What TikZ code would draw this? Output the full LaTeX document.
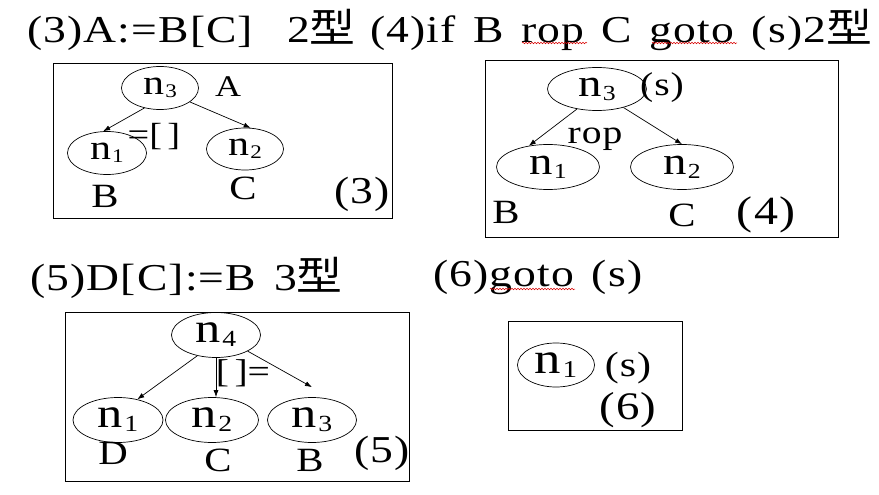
\documentclass[tikz,border=0pt]{standalone}
\usepackage{graphicx}
\usepackage{fontspec}
\setmainfont{Liberation Serif}[FakeStretch=1.2]
\newfontfamily\cjk{Noto Sans CJK SC}[FakeStretch=1.15, Scale=1.05]
\newfontfamily\spaced{Liberation Serif}[FakeStretch=1.2, LetterSpace=3, WordSpace=1.4]
\usetikzlibrary{arrows.meta, positioning, shapes.geometric, decorations.pathmorphing}
% node text n with a small lowered index
\newcommand{\nsub}[1]{n\kern0.03em\raisebox{-0.1em}{\scalebox{0.55}{#1}}}

\begin{document}
\begin{tikzpicture}[x=1pt, y=-1pt,
    >={Latex[length=7pt,width=5pt]},
    box/.style={draw, line width=1pt},
    tnode/.style={draw, ellipse, line width=0.7pt, inner sep=0pt},
    edge/.style={->, line width=0.7pt},
    title/.style={anchor=west, inner sep=0pt, font=\spaced\fontsize{38}{38}\selectfont},
    lbl/.style={inner sep=0pt, font=\spaced\fontsize{34}{34}\selectfont},
    tag/.style={inner sep=0pt, font=\spaced\fontsize{38}{38}\selectfont},
    squiggle/.style={red!85!black, line width=0.5pt, decorate,
        decoration={snake, amplitude=0.8pt, segment length=3pt}}]
    \useasboundingbox (0,0) rectangle (879,495);

    % (3) A:=B[C]
    \node[title] (h3) at (27,30) {(3)A:=B[C]\hspace{34pt}2{\cjk 型}};
    \draw[box] (53,64) rectangle (392,218);
    \node[tnode, minimum width=77pt, minimum height=43pt, font=\fontsize{35}{35}\selectfont] (t3) at (160,88) {\nsub{3}};
    \node[tnode, minimum width=79pt, minimum height=43pt, font=\fontsize{35}{35}\selectfont] (l3) at (107,153) {\nsub{1}};
    \node[tnode, minimum width=77pt, minimum height=42pt, font=\fontsize{35}{35}\selectfont] (r3) at (245,149) {\nsub{2}};
    \draw[edge] (t3.232) -- (l3.100);
    \draw[edge] (t3.-25) -- (r3.75);
    \node[lbl, font=\spaced\fontsize{30}{30}\selectfont] (a3) at (228,87) {A};
    \node[lbl, font=\fontsize{32}{32}\selectfont] (o3) at (154,137) {=[\,]};
    \node[lbl] (b3) at (105,196) {B};
    \node[lbl] (c3) at (243,188) {C};
    \node[tag] (k3) at (362,194) {(3)};

    % (4) if B rop C goto (s)
    \node[title] (h4) at (370,30) {(4)if B rop C goto (s)2{\cjk 型}};
    \draw[squiggle] (522,43) -- (587,43);
    \draw[squiggle] (652,43) -- (737,43);
    \draw[box] (485,61) rectangle (838,237);
    \node[tnode, minimum width=99pt, minimum height=43pt, font=\fontsize{39}{39}\selectfont] (t4) at (597,89) {\nsub{3}};
    \node[tnode, minimum width=103pt, minimum height=45pt, font=\fontsize{39}{39}\selectfont] (l4) at (548,167) {\nsub{1}};
    \node[tnode, minimum width=103pt, minimum height=45pt, font=\fontsize{39}{39}\selectfont] (r4) at (682,167) {\nsub{2}};
    \draw[edge] (t4.225) -- (l4.132);
    \draw[edge] (t4.-35) -- (r4.north);
    \node[lbl, font=\spaced\fontsize{33}{33}\selectfont] (s4) at (662,88) {(s)};
    \node[lbl, font=\spaced\fontsize{33}{33}\selectfont] (o4) at (595,139) {rop};
    \node[lbl] (b4) at (506,212) {B};
    \node[lbl] (c4) at (682,215) {C};
    \node[tag, font=\spaced\fontsize{40}{40}\selectfont] (k4) at (766,215) {(4)};

    % (5) D[C]:=B
    \node[title] (h5) at (30,278) {(5)D[C]:=B\hspace{18pt}3{\cjk 型}};
    \draw[box] (65,312) rectangle (409,481);
    \node[tnode, minimum width=89pt, minimum height=45pt, font=\fontsize{42}{42}\selectfont] (t5) at (216,335) {\nsub{4}};
    \node[tnode, minimum width=90pt, minimum height=45pt, font=\fontsize{42}{42}\selectfont] (l5) at (118,420) {\nsub{1}};
    \node[tnode, minimum width=93pt, minimum height=45pt, font=\fontsize{42}{42}\selectfont] (m5) at (212,420) {\nsub{2}};
    \node[tnode, minimum width=89pt, minimum height=45pt, font=\fontsize{42}{42}\selectfont] (r5) at (312,420) {\nsub{3}};
    \draw[edge] (t5.228) -- (l5.47);
    \draw[edge] (t5.south) -- (t5.south |- m5.north);
    \draw[edge] (t5.-27) -- ([yshift=10pt]r5.north);
    \node[lbl, font=\fontsize{33}{33}\selectfont] (o5) at (243,373) {[\,]=};
    \node[lbl] (d5) at (113,453) {D};
    \node[lbl] (c5) at (218,460) {C};
    \node[lbl] (b5) at (310,460) {B};
    \node[tag] (k5) at (382,453) {(5)};

    % (6) goto (s)
    \node[title] (h6) at (433,277) {(6)goto (s)};
    \draw[squiggle] (490,289) -- (575,289);
    \draw[box] (508,321) rectangle (682,430);
    \node[tnode, minimum width=77pt, minimum height=44pt, font=\fontsize{44}{44}\selectfont] (o6) at (556,365) {\nsub{1}};
    \node[lbl, font=\spaced\fontsize{35}{35}\selectfont] (s6) at (628,368) {(s)};
    \node[tag, font=\spaced\fontsize{39}{39}\selectfont] (k6) at (628,410) {(6)};
\end{tikzpicture}
\end{document}
